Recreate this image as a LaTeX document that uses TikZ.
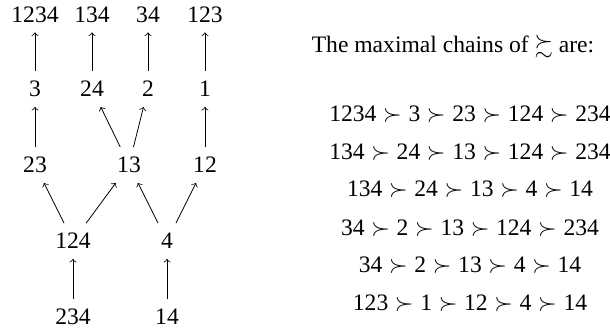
\documentclass[tikz,border=0pt]{standalone}
\usepackage{amsmath,amssymb}
\usepackage{fontspec}
\setmainfont{Liberation Serif}
\usetikzlibrary{positioning}

\begin{document}
\begin{tikzpicture}[
    x=0.5pt, y=-0.5pt,
    elem/.style={inner sep=0pt, minimum width=20pt, minimum height=17.5pt, text height=7.9pt, text depth=0pt, font=\fontsize{11.8}{14}\selectfont},
    cover/.style={->},
    chaintext/.style={anchor=base, inner sep=0pt, font=\fontsize{11.8}{14}\selectfont},
]
\useasboundingbox (0,0) rectangle (610,331);
% the order
\node[elem] (n1234) at (35, 14.5) {1234};
\node[elem] (n134) at (92, 14.5) {134};
\node[elem] (n34) at (148, 14.5) {34};
\node[elem] (n123) at (205, 14.5) {123};
\node[elem] (n3) at (35, 89) {3};
\node[elem] (n24) at (92, 89) {24};
\node[elem] (n2) at (148, 89) {2};
\node[elem] (n1) at (205, 89) {1};
\node[elem] (n23) at (35, 165) {23};
\node[elem] (n13) at (129, 165) {13};
\node[elem] (n12) at (205, 165) {12};
\node[elem] (n124) at (73, 241) {124};
\node[elem] (n4) at (167, 241) {4};
\node[elem] (n234) at (73, 317) {234};
\node[elem] (n14) at (167, 317) {14};
\draw[cover] (n3) -- (n1234);
\draw[cover] (n24) -- (n134);
\draw[cover] (n2) -- (n34);
\draw[cover] (n1) -- (n123);
\draw[cover] (n23) -- (n3);
\draw[cover] (n13) -- (n24);
\draw[cover] (n13) -- (n2);
\draw[cover] (n12) -- (n1);
\draw[cover] (n124) -- (n23);
\draw[cover] (n124) -- (n13);
\draw[cover] (n4) -- (n13);
\draw[cover] (n4) -- (n12);
\draw[cover] (n234) -- (n124);
\draw[cover] (n14) -- (n4);
% the chains
\node[chaintext] (title) at (453, 53) {The maximal chains of $\succsim$ are:};
\node[chaintext] (c1) at (470, 122) {1234${}\succ{}$3${}\succ{}$23${}\succ{}$124${}\succ{}$234};
\node[chaintext] (c2) at (470, 159.5) {134${}\succ{}$24${}\succ{}$13${}\succ{}$124${}\succ{}$234};
\node[chaintext] (c3) at (470, 197) {134${}\succ{}$24${}\succ{}$13${}\succ{}$4${}\succ{}$14};
\node[chaintext] (c4) at (470, 235) {34${}\succ{}$2${}\succ{}$13${}\succ{}$124${}\succ{}$234};
\node[chaintext] (c5) at (470, 272.5) {34${}\succ{}$2${}\succ{}$13${}\succ{}$4${}\succ{}$14};
\node[chaintext] (c6) at (470, 310) {123${}\succ{}$1${}\succ{}$12${}\succ{}$4${}\succ{}$14};
\end{tikzpicture}
\end{document}
